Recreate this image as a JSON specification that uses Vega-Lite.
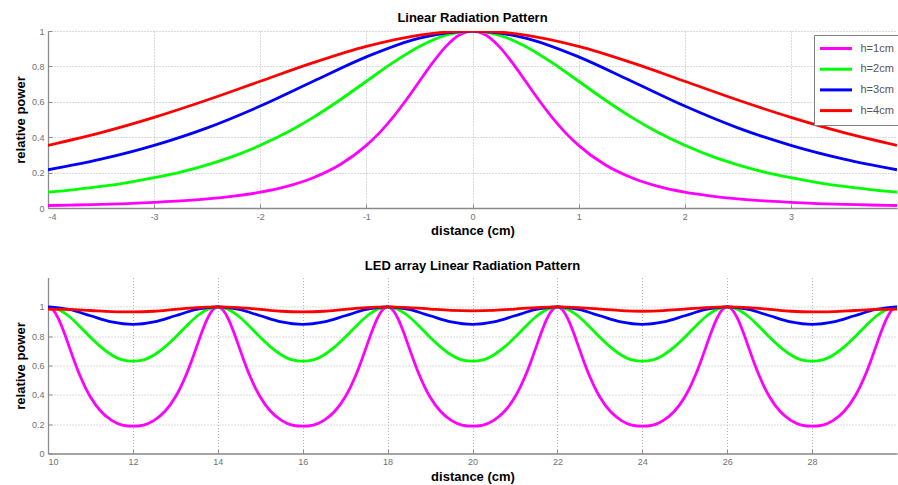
{
"$schema": "https://vega.github.io/schema/vega-lite/v6.json",
"background": "white",
"padding": {"left": 14, "top": 12, "right": 0, "bottom": 0},
"bounds": "flush",
"spacing": 69.5,
"config": {
  "view": {"stroke": null},
  "font": "Liberation Sans",
  "axis": {"domainColor": "#8a8a8a", "domainWidth": 1.3, "tickColor": "#8a8a8a", "tickSize": -4, "tickWidth": 1, "labelFontSize": 9, "labelColor": "#707070", "labelPadding": 8, "titleFontSize": 13, "titleFontWeight": "bold", "titleColor": "black", "grid": true, "gridColor": "#b4b4b4", "gridDash": [1, 2], "gridWidth": 1},
  "title": {"fontSize": 13, "fontWeight": "bold", "offset": 2, "color": "black"}
},
"datasets": {
"top": [
{"h":"h=1cm","x":-4,"y":0.014},{"h":"h=1cm","x":-3.75,"y":0.017},{"h":"h=1cm","x":-3.5,"y":0.021},{"h":"h=1cm","x":-3.25,"y":0.025},{"h":"h=1cm","x":-3,"y":0.032},{"h":"h=1cm","x":-2.75,"y":0.04},{"h":"h=1cm","x":-2.5,"y":0.051},{"h":"h=1cm","x":-2.25,"y":0.067},{"h":"h=1cm","x":-2,"y":0.089},{"h":"h=1cm","x":-1.75,"y":0.122},{"h":"h=1cm","x":-1.5,"y":0.171},{"h":"h=1cm","x":-1.25,"y":0.244},{"h":"h=1cm","x":-1,"y":0.354},{"h":"h=1cm","x":-0.875,"y":0.426},{"h":"h=1cm","x":-0.75,"y":0.512},{"h":"h=1cm","x":-0.625,"y":0.61},{"h":"h=1cm","x":-0.5,"y":0.716},{"h":"h=1cm","x":-0.375,"y":0.821},{"h":"h=1cm","x":-0.25,"y":0.913},{"h":"h=1cm","x":-0.125,"y":0.977},{"h":"h=1cm","x":0,"y":1},
{"h":"h=1cm","x":0.125,"y":0.977},{"h":"h=1cm","x":0.25,"y":0.913},{"h":"h=1cm","x":0.375,"y":0.821},{"h":"h=1cm","x":0.5,"y":0.716},{"h":"h=1cm","x":0.625,"y":0.61},{"h":"h=1cm","x":0.75,"y":0.512},{"h":"h=1cm","x":0.875,"y":0.426},{"h":"h=1cm","x":1,"y":0.354},{"h":"h=1cm","x":1.25,"y":0.244},{"h":"h=1cm","x":1.5,"y":0.171},{"h":"h=1cm","x":1.75,"y":0.122},{"h":"h=1cm","x":2,"y":0.089},{"h":"h=1cm","x":2.25,"y":0.067},{"h":"h=1cm","x":2.5,"y":0.051},{"h":"h=1cm","x":2.75,"y":0.04},{"h":"h=1cm","x":3,"y":0.032},{"h":"h=1cm","x":3.25,"y":0.025},{"h":"h=1cm","x":3.5,"y":0.021},{"h":"h=1cm","x":3.75,"y":0.017},{"h":"h=1cm","x":4,"y":0.014},
{"h":"h=2cm","x":-4,"y":0.089},{"h":"h=2cm","x":-3.75,"y":0.104},{"h":"h=2cm","x":-3.5,"y":0.122},{"h":"h=2cm","x":-3.25,"y":0.144},{"h":"h=2cm","x":-3,"y":0.171},{"h":"h=2cm","x":-2.75,"y":0.203},{"h":"h=2cm","x":-2.5,"y":0.244},{"h":"h=2cm","x":-2.25,"y":0.293},{"h":"h=2cm","x":-2,"y":0.354},{"h":"h=2cm","x":-1.75,"y":0.426},{"h":"h=2cm","x":-1.5,"y":0.512},{"h":"h=2cm","x":-1.25,"y":0.61},{"h":"h=2cm","x":-1,"y":0.716},{"h":"h=2cm","x":-0.75,"y":0.821},{"h":"h=2cm","x":-0.5,"y":0.913},{"h":"h=2cm","x":-0.25,"y":0.977},{"h":"h=2cm","x":0,"y":1},
{"h":"h=2cm","x":0.25,"y":0.977},{"h":"h=2cm","x":0.5,"y":0.913},{"h":"h=2cm","x":0.75,"y":0.821},{"h":"h=2cm","x":1,"y":0.716},{"h":"h=2cm","x":1.25,"y":0.61},{"h":"h=2cm","x":1.5,"y":0.512},{"h":"h=2cm","x":1.75,"y":0.426},{"h":"h=2cm","x":2,"y":0.354},{"h":"h=2cm","x":2.25,"y":0.293},{"h":"h=2cm","x":2.5,"y":0.244},{"h":"h=2cm","x":2.75,"y":0.203},{"h":"h=2cm","x":3,"y":0.171},{"h":"h=2cm","x":3.25,"y":0.144},{"h":"h=2cm","x":3.5,"y":0.122},{"h":"h=2cm","x":3.75,"y":0.104},{"h":"h=2cm","x":4,"y":0.089},
{"h":"h=3cm","x":-4,"y":0.216},{"h":"h=3cm","x":-3.5,"y":0.276},{"h":"h=3cm","x":-3,"y":0.354},{"h":"h=3cm","x":-2.5,"y":0.453},{"h":"h=3cm","x":-2,"y":0.576},{"h":"h=3cm","x":-1.5,"y":0.716},{"h":"h=3cm","x":-1,"y":0.854},{"h":"h=3cm","x":-0.5,"y":0.96},{"h":"h=3cm","x":0,"y":1},{"h":"h=3cm","x":0.5,"y":0.96},{"h":"h=3cm","x":1,"y":0.854},{"h":"h=3cm","x":1.5,"y":0.716},{"h":"h=3cm","x":2,"y":0.576},{"h":"h=3cm","x":2.5,"y":0.453},{"h":"h=3cm","x":3,"y":0.354},{"h":"h=3cm","x":3.5,"y":0.276},{"h":"h=3cm","x":4,"y":0.216},
{"h":"h=4cm","x":-4,"y":0.354},{"h":"h=4cm","x":-3.5,"y":0.426},{"h":"h=4cm","x":-3,"y":0.512},{"h":"h=4cm","x":-2.5,"y":0.61},{"h":"h=4cm","x":-2,"y":0.716},{"h":"h=4cm","x":-1.5,"y":0.821},{"h":"h=4cm","x":-1,"y":0.913},{"h":"h=4cm","x":-0.5,"y":0.977},{"h":"h=4cm","x":0,"y":1},{"h":"h=4cm","x":0.5,"y":0.977},{"h":"h=4cm","x":1,"y":0.913},{"h":"h=4cm","x":1.5,"y":0.821},{"h":"h=4cm","x":2,"y":0.716},{"h":"h=4cm","x":2.5,"y":0.61},{"h":"h=4cm","x":3,"y":0.512},{"h":"h=4cm","x":3.5,"y":0.426},{"h":"h=4cm","x":4,"y":0.354}
],
"bottom": [
{"h":"h=1cm","x":10,"y":1},{"h":"h=1cm","x":10.125,"y":0.978},{"h":"h=1cm","x":10.25,"y":0.916},{"h":"h=1cm","x":10.375,"y":0.828},{"h":"h=1cm","x":10.5,"y":0.727},{"h":"h=1cm","x":10.625,"y":0.626},{"h":"h=1cm","x":10.75,"y":0.533},{"h":"h=1cm","x":10.875,"y":0.453},{"h":"h=1cm","x":11,"y":0.385},{"h":"h=1cm","x":11.25,"y":0.286},{"h":"h=1cm","x":11.5,"y":0.226},{"h":"h=1cm","x":11.75,"y":0.194},{"h":"h=1cm","x":12,"y":0.186},{"h":"h=1cm","x":12.25,"y":0.194},{"h":"h=1cm","x":12.5,"y":0.226},{"h":"h=1cm","x":12.75,"y":0.286},{"h":"h=1cm","x":13,"y":0.385},{"h":"h=1cm","x":13.125,"y":0.453},{"h":"h=1cm","x":13.25,"y":0.533},{"h":"h=1cm","x":13.375,"y":0.626},{"h":"h=1cm","x":13.5,"y":0.727},{"h":"h=1cm","x":13.625,"y":0.828},{"h":"h=1cm","x":13.75,"y":0.916},{"h":"h=1cm","x":13.875,"y":0.978},
{"h":"h=1cm","x":14,"y":1},{"h":"h=1cm","x":14.125,"y":0.978},{"h":"h=1cm","x":14.25,"y":0.916},{"h":"h=1cm","x":14.375,"y":0.828},{"h":"h=1cm","x":14.5,"y":0.727},{"h":"h=1cm","x":14.625,"y":0.626},{"h":"h=1cm","x":14.75,"y":0.533},{"h":"h=1cm","x":14.875,"y":0.453},{"h":"h=1cm","x":15,"y":0.385},{"h":"h=1cm","x":15.25,"y":0.286},{"h":"h=1cm","x":15.5,"y":0.226},{"h":"h=1cm","x":15.75,"y":0.194},{"h":"h=1cm","x":16,"y":0.186},{"h":"h=1cm","x":16.25,"y":0.194},{"h":"h=1cm","x":16.5,"y":0.226},{"h":"h=1cm","x":16.75,"y":0.286},{"h":"h=1cm","x":17,"y":0.385},{"h":"h=1cm","x":17.125,"y":0.453},{"h":"h=1cm","x":17.25,"y":0.533},{"h":"h=1cm","x":17.375,"y":0.626},{"h":"h=1cm","x":17.5,"y":0.727},{"h":"h=1cm","x":17.625,"y":0.828},{"h":"h=1cm","x":17.75,"y":0.916},{"h":"h=1cm","x":17.875,"y":0.978},
{"h":"h=1cm","x":18,"y":1},{"h":"h=1cm","x":18.125,"y":0.978},{"h":"h=1cm","x":18.25,"y":0.916},{"h":"h=1cm","x":18.375,"y":0.828},{"h":"h=1cm","x":18.5,"y":0.727},{"h":"h=1cm","x":18.625,"y":0.626},{"h":"h=1cm","x":18.75,"y":0.533},{"h":"h=1cm","x":18.875,"y":0.453},{"h":"h=1cm","x":19,"y":0.385},{"h":"h=1cm","x":19.25,"y":0.286},{"h":"h=1cm","x":19.5,"y":0.226},{"h":"h=1cm","x":19.75,"y":0.194},{"h":"h=1cm","x":20,"y":0.186},{"h":"h=1cm","x":20.25,"y":0.194},{"h":"h=1cm","x":20.5,"y":0.226},{"h":"h=1cm","x":20.75,"y":0.286},{"h":"h=1cm","x":21,"y":0.385},{"h":"h=1cm","x":21.125,"y":0.453},{"h":"h=1cm","x":21.25,"y":0.533},{"h":"h=1cm","x":21.375,"y":0.626},{"h":"h=1cm","x":21.5,"y":0.727},{"h":"h=1cm","x":21.625,"y":0.828},{"h":"h=1cm","x":21.75,"y":0.916},{"h":"h=1cm","x":21.875,"y":0.978},
{"h":"h=1cm","x":22,"y":1},{"h":"h=1cm","x":22.125,"y":0.978},{"h":"h=1cm","x":22.25,"y":0.916},{"h":"h=1cm","x":22.375,"y":0.828},{"h":"h=1cm","x":22.5,"y":0.727},{"h":"h=1cm","x":22.625,"y":0.626},{"h":"h=1cm","x":22.75,"y":0.533},{"h":"h=1cm","x":22.875,"y":0.453},{"h":"h=1cm","x":23,"y":0.385},{"h":"h=1cm","x":23.25,"y":0.286},{"h":"h=1cm","x":23.5,"y":0.226},{"h":"h=1cm","x":23.75,"y":0.194},{"h":"h=1cm","x":24,"y":0.186},{"h":"h=1cm","x":24.25,"y":0.194},{"h":"h=1cm","x":24.5,"y":0.226},{"h":"h=1cm","x":24.75,"y":0.286},{"h":"h=1cm","x":25,"y":0.385},{"h":"h=1cm","x":25.125,"y":0.453},{"h":"h=1cm","x":25.25,"y":0.533},{"h":"h=1cm","x":25.375,"y":0.626},{"h":"h=1cm","x":25.5,"y":0.727},{"h":"h=1cm","x":25.625,"y":0.828},{"h":"h=1cm","x":25.75,"y":0.916},{"h":"h=1cm","x":25.875,"y":0.978},
{"h":"h=1cm","x":26,"y":1},{"h":"h=1cm","x":26.125,"y":0.978},{"h":"h=1cm","x":26.25,"y":0.916},{"h":"h=1cm","x":26.375,"y":0.828},{"h":"h=1cm","x":26.5,"y":0.727},{"h":"h=1cm","x":26.625,"y":0.626},{"h":"h=1cm","x":26.75,"y":0.533},{"h":"h=1cm","x":26.875,"y":0.453},{"h":"h=1cm","x":27,"y":0.385},{"h":"h=1cm","x":27.25,"y":0.286},{"h":"h=1cm","x":27.5,"y":0.226},{"h":"h=1cm","x":27.75,"y":0.194},{"h":"h=1cm","x":28,"y":0.186},{"h":"h=1cm","x":28.25,"y":0.194},{"h":"h=1cm","x":28.5,"y":0.226},{"h":"h=1cm","x":28.75,"y":0.286},{"h":"h=1cm","x":29,"y":0.385},{"h":"h=1cm","x":29.125,"y":0.453},{"h":"h=1cm","x":29.25,"y":0.533},{"h":"h=1cm","x":29.375,"y":0.626},{"h":"h=1cm","x":29.5,"y":0.727},{"h":"h=1cm","x":29.625,"y":0.828},{"h":"h=1cm","x":29.75,"y":0.916},{"h":"h=1cm","x":29.875,"y":0.978},{"h":"h=1cm","x":30,"y":1},
{"h":"h=2cm","x":10,"y":1},{"h":"h=2cm","x":10.25,"y":0.982},{"h":"h=2cm","x":10.5,"y":0.934},{"h":"h=2cm","x":10.75,"y":0.866},{"h":"h=2cm","x":11,"y":0.792},{"h":"h=2cm","x":11.25,"y":0.725},{"h":"h=2cm","x":11.5,"y":0.672},{"h":"h=2cm","x":11.75,"y":0.639},{"h":"h=2cm","x":12,"y":0.63},{"h":"h=2cm","x":12.25,"y":0.639},{"h":"h=2cm","x":12.5,"y":0.672},{"h":"h=2cm","x":12.75,"y":0.725},{"h":"h=2cm","x":13,"y":0.792},{"h":"h=2cm","x":13.25,"y":0.866},{"h":"h=2cm","x":13.5,"y":0.934},{"h":"h=2cm","x":13.75,"y":0.982},
{"h":"h=2cm","x":14,"y":1},{"h":"h=2cm","x":14.25,"y":0.982},{"h":"h=2cm","x":14.5,"y":0.934},{"h":"h=2cm","x":14.75,"y":0.866},{"h":"h=2cm","x":15,"y":0.792},{"h":"h=2cm","x":15.25,"y":0.725},{"h":"h=2cm","x":15.5,"y":0.672},{"h":"h=2cm","x":15.75,"y":0.639},{"h":"h=2cm","x":16,"y":0.63},{"h":"h=2cm","x":16.25,"y":0.639},{"h":"h=2cm","x":16.5,"y":0.672},{"h":"h=2cm","x":16.75,"y":0.725},{"h":"h=2cm","x":17,"y":0.792},{"h":"h=2cm","x":17.25,"y":0.866},{"h":"h=2cm","x":17.5,"y":0.934},{"h":"h=2cm","x":17.75,"y":0.982},
{"h":"h=2cm","x":18,"y":1},{"h":"h=2cm","x":18.25,"y":0.982},{"h":"h=2cm","x":18.5,"y":0.934},{"h":"h=2cm","x":18.75,"y":0.866},{"h":"h=2cm","x":19,"y":0.792},{"h":"h=2cm","x":19.25,"y":0.725},{"h":"h=2cm","x":19.5,"y":0.672},{"h":"h=2cm","x":19.75,"y":0.639},{"h":"h=2cm","x":20,"y":0.63},{"h":"h=2cm","x":20.25,"y":0.639},{"h":"h=2cm","x":20.5,"y":0.672},{"h":"h=2cm","x":20.75,"y":0.725},{"h":"h=2cm","x":21,"y":0.792},{"h":"h=2cm","x":21.25,"y":0.866},{"h":"h=2cm","x":21.5,"y":0.934},{"h":"h=2cm","x":21.75,"y":0.982},
{"h":"h=2cm","x":22,"y":1},{"h":"h=2cm","x":22.25,"y":0.982},{"h":"h=2cm","x":22.5,"y":0.934},{"h":"h=2cm","x":22.75,"y":0.866},{"h":"h=2cm","x":23,"y":0.792},{"h":"h=2cm","x":23.25,"y":0.725},{"h":"h=2cm","x":23.5,"y":0.672},{"h":"h=2cm","x":23.75,"y":0.639},{"h":"h=2cm","x":24,"y":0.63},{"h":"h=2cm","x":24.25,"y":0.639},{"h":"h=2cm","x":24.5,"y":0.672},{"h":"h=2cm","x":24.75,"y":0.725},{"h":"h=2cm","x":25,"y":0.792},{"h":"h=2cm","x":25.25,"y":0.866},{"h":"h=2cm","x":25.5,"y":0.934},{"h":"h=2cm","x":25.75,"y":0.982},
{"h":"h=2cm","x":26,"y":1},{"h":"h=2cm","x":26.25,"y":0.982},{"h":"h=2cm","x":26.5,"y":0.934},{"h":"h=2cm","x":26.75,"y":0.866},{"h":"h=2cm","x":27,"y":0.792},{"h":"h=2cm","x":27.25,"y":0.725},{"h":"h=2cm","x":27.5,"y":0.672},{"h":"h=2cm","x":27.75,"y":0.639},{"h":"h=2cm","x":28,"y":0.63},{"h":"h=2cm","x":28.25,"y":0.639},{"h":"h=2cm","x":28.5,"y":0.672},{"h":"h=2cm","x":28.75,"y":0.725},{"h":"h=2cm","x":29,"y":0.792},{"h":"h=2cm","x":29.25,"y":0.866},{"h":"h=2cm","x":29.5,"y":0.934},{"h":"h=2cm","x":29.75,"y":0.982},{"h":"h=2cm","x":30,"y":1},
{"h":"h=3cm","x":10,"y":1},{"h":"h=3cm","x":10.5,"y":0.982},{"h":"h=3cm","x":11,"y":0.939},{"h":"h=3cm","x":11.5,"y":0.897},{"h":"h=3cm","x":12,"y":0.88},{"h":"h=3cm","x":12.5,"y":0.897},{"h":"h=3cm","x":13,"y":0.939},{"h":"h=3cm","x":13.5,"y":0.982},
{"h":"h=3cm","x":14,"y":1},{"h":"h=3cm","x":14.5,"y":0.982},{"h":"h=3cm","x":15,"y":0.939},{"h":"h=3cm","x":15.5,"y":0.897},{"h":"h=3cm","x":16,"y":0.88},{"h":"h=3cm","x":16.5,"y":0.897},{"h":"h=3cm","x":17,"y":0.939},{"h":"h=3cm","x":17.5,"y":0.982},
{"h":"h=3cm","x":18,"y":1},{"h":"h=3cm","x":18.5,"y":0.982},{"h":"h=3cm","x":19,"y":0.939},{"h":"h=3cm","x":19.5,"y":0.897},{"h":"h=3cm","x":20,"y":0.88},{"h":"h=3cm","x":20.5,"y":0.897},{"h":"h=3cm","x":21,"y":0.939},{"h":"h=3cm","x":21.5,"y":0.982},
{"h":"h=3cm","x":22,"y":1},{"h":"h=3cm","x":22.5,"y":0.982},{"h":"h=3cm","x":23,"y":0.939},{"h":"h=3cm","x":23.5,"y":0.897},{"h":"h=3cm","x":24,"y":0.88},{"h":"h=3cm","x":24.5,"y":0.897},{"h":"h=3cm","x":25,"y":0.939},{"h":"h=3cm","x":25.5,"y":0.982},
{"h":"h=3cm","x":26,"y":1},{"h":"h=3cm","x":26.5,"y":0.982},{"h":"h=3cm","x":27,"y":0.939},{"h":"h=3cm","x":27.5,"y":0.897},{"h":"h=3cm","x":28,"y":0.88},{"h":"h=3cm","x":28.5,"y":0.897},{"h":"h=3cm","x":29,"y":0.939},{"h":"h=3cm","x":29.5,"y":0.982},{"h":"h=3cm","x":30,"y":1},
{"h":"h=4cm","x":10,"y":0.985},{"h":"h=4cm","x":10.5,"y":0.982},{"h":"h=4cm","x":11,"y":0.975},{"h":"h=4cm","x":11.5,"y":0.968},{"h":"h=4cm","x":12,"y":0.965},{"h":"h=4cm","x":12.5,"y":0.97},{"h":"h=4cm","x":13,"y":0.983},{"h":"h=4cm","x":13.5,"y":0.995},
{"h":"h=4cm","x":14,"y":1},{"h":"h=4cm","x":14.5,"y":0.995},{"h":"h=4cm","x":15,"y":0.983},{"h":"h=4cm","x":15.5,"y":0.97},{"h":"h=4cm","x":16,"y":0.966},{"h":"h=4cm","x":16.5,"y":0.97},{"h":"h=4cm","x":17,"y":0.983},{"h":"h=4cm","x":17.5,"y":0.995},
{"h":"h=4cm","x":18,"y":1},{"h":"h=4cm","x":18.5,"y":0.995},{"h":"h=4cm","x":19,"y":0.985},{"h":"h=4cm","x":19.5,"y":0.976},{"h":"h=4cm","x":20,"y":0.973},{"h":"h=4cm","x":20.5,"y":0.976},{"h":"h=4cm","x":21,"y":0.985},{"h":"h=4cm","x":21.5,"y":0.995},
{"h":"h=4cm","x":22,"y":1},{"h":"h=4cm","x":22.5,"y":0.995},{"h":"h=4cm","x":23,"y":0.985},{"h":"h=4cm","x":23.5,"y":0.974},{"h":"h=4cm","x":24,"y":0.97},{"h":"h=4cm","x":24.5,"y":0.974},{"h":"h=4cm","x":25,"y":0.985},{"h":"h=4cm","x":25.5,"y":0.995},
{"h":"h=4cm","x":26,"y":1},{"h":"h=4cm","x":26.5,"y":0.995},{"h":"h=4cm","x":27,"y":0.983},{"h":"h=4cm","x":27.5,"y":0.97},{"h":"h=4cm","x":28,"y":0.965},{"h":"h=4cm","x":28.5,"y":0.968},{"h":"h=4cm","x":29,"y":0.975},{"h":"h=4cm","x":29.5,"y":0.982},{"h":"h=4cm","x":30,"y":0.985}
]
},
"vconcat": [
{
  "title": {"text": "Linear Radiation Pattern"},
  "width": 849,
  "height": 177,
  "data": {"name": "top"},
  "mark": {"type": "line", "strokeWidth": 2.8, "interpolate": "monotone", "clip": true},
  "encoding": {
    "x": {"field": "x", "type": "quantitative", "scale": {"domain": [-4, 4], "nice": false, "zero": false},
          "axis": {"title": "distance (cm)", "titlePadding": 3.5, "values": [-4, -3, -2, -1, 0, 1, 2, 3], "labelExpr": "'' + datum.value"}},
    "y": {"field": "y", "type": "quantitative", "scale": {"domain": [0, 1], "nice": false},
          "axis": {"title": "relative power", "titlePadding": 4, "values": [0, 0.2, 0.4, 0.6, 0.8, 1], "labelExpr": "'' + datum.value"}},
    "color": {"field": "h", "type": "nominal",
              "scale": {"domain": ["h=1cm", "h=2cm", "h=3cm", "h=4cm"], "range": ["#ff00ff", "#00ff00", "#0000ff", "#ff0000"]},
              "legend": {"title": null, "orient": "none", "legendX": 766, "legendY": 4,
                         "symbolType": "M-4,0H4", "symbolSize": 64, "symbolStrokeWidth": 3, "symbolOffset": 8.5,
                         "labelOffset": 19, "labelFontSize": 11, "labelColor": "#555555",
                         "strokeColor": "#808080", "fillColor": "white", "padding": 8, "rowPadding": 7.7}}
  }
},
{
  "title": {"text": "LED array Linear Radiation Pattern", "offset": 5},
  "width": 849,
  "height": 176,
  "data": {"name": "bottom"},
  "mark": {"type": "line", "strokeWidth": 2.8, "interpolate": "monotone", "clip": true},
  "encoding": {
    "x": {"field": "x", "type": "quantitative", "scale": {"domain": [10, 30], "nice": false, "zero": false},
          "axis": {"title": "distance (cm)", "titlePadding": 4, "values": [10, 12, 14, 16, 18, 20, 22, 24, 26, 28]}},
    "y": {"field": "y", "type": "quantitative", "scale": {"domain": [0, 1.2], "nice": false},
          "axis": {"title": "relative power", "titlePadding": 4, "values": [0, 0.2, 0.4, 0.6, 0.8, 1], "labelExpr": "'' + datum.value"}},
    "color": {"field": "h", "type": "nominal",
              "scale": {"domain": ["h=1cm", "h=2cm", "h=3cm", "h=4cm"], "range": ["#ff00ff", "#00ff00", "#0000ff", "#ff0000"]},
              "legend": null}
  }
}
],
"resolve": {"scale": {"x": "independent", "y": "independent", "color": "independent"}, "legend": {"color": "independent"}}
}
